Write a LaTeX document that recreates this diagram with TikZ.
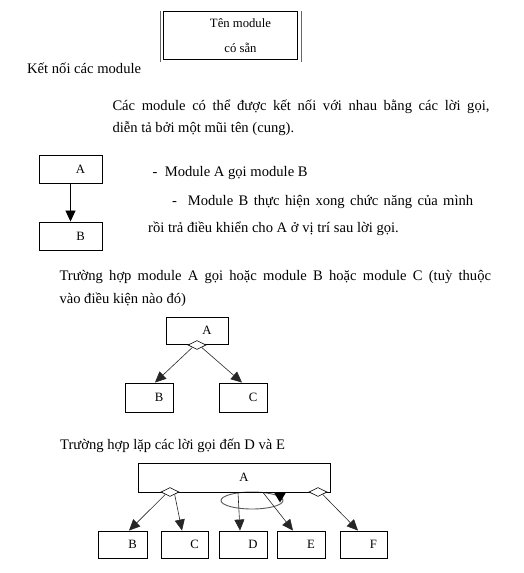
\documentclass[tikz,border=0pt]{standalone}
\usepackage{fontspec}
\setmainfont{Liberation Serif}
\usetikzlibrary{arrows.meta,shapes.geometric}
\tikzset{
  txt/.style={anchor=base west, inner sep=0pt, font=\fontsize{14.6}{22}\selectfont},
  modbox/.style={draw=black, line width=0.9pt, rectangle, inner sep=0pt, minimum height=#1, font=\fontsize{12.7}{15}\selectfont},
  modbox/.default=28pt,
  choice/.style={draw=black, fill=white, line width=0.6pt, diamond, aspect=2, minimum width=18pt, minimum height=9pt, inner sep=0pt},
  call/.style={draw=black!85, line width=0.6pt, -{Triangle[length=11pt,width=10pt]}},
  loopline/.style={draw=black!65, line width=0.9pt},
  sideline/.style={draw=black!60, line width=1.2pt}
}
\newcommand{\lbl}[1]{\hspace*{20pt}#1}
\begin{document}
\begin{tikzpicture}[x=1pt,y=-1pt]
\useasboundingbox (0,0) rectangle (523,573);
% top box
\node[modbox=47.5pt, minimum width=133.5pt, line width=1.2pt, align=center, font=\fontsize{12.7}{25}\selectfont] (top) at (230.5,35.5) {\lbl{Tên module}\\\lbl{có sẵn}};
\coordinate (tl1) at ([xshift=-3pt,yshift=0pt]top.north west);
\coordinate (tl2) at ([xshift=-3pt,yshift=-2pt]top.south west);
\coordinate (tr1) at ([xshift=4pt]top.north east);
\coordinate (tr2) at ([xshift=4pt,yshift=-2pt]top.south east);
\draw[sideline] (tl1) -- (tl2);
\draw[sideline] (tr1) -- (tr2);

% texts
\node[txt] (t1) at (27,73) {Kết nối các module};
\node[txt] (t2) at (112.3,110) {\makebox[377pt][s]{Các module có thể được kết nối với nhau bằng các lời gọi,}};
\node[txt] (t3) at (112.3,132) {diễn tả bởi một mũi tên (cung).};
\node[txt] (t4) at (152.5,176) {-\ \ Module A gọi module B};
\node[txt] (t5) at (172,205) {\makebox[301pt][s]{-\ \ Module B thực hiện xong chức năng của mình}};
\node[txt] (t6) at (148,232) {rồi trả điều khiển cho A ở vị trí sau lời gọi.};
\node[txt] (t7) at (59.3,280) {\makebox[431.5pt][s]{Trường hợp module A gọi hoặc module B hoặc module C (tuỳ thuộc}};
\node[txt] (t8) at (59.3,303) {vào điều kiện nào đó)};
\node[txt] (t9) at (60,449) {Trường hợp lặp các lời gọi đến D và E};

% section 2
\node[modbox=28pt, minimum width=63pt] (a2) at (70.5,169) {\lbl{A}};
\node[modbox=28pt, minimum width=63pt] (b2) at (70.5,236) {\lbl{B}};
\draw[call, draw=black, line width=0.8pt] (a2.south) -- (b2.north);

% section 3
\node[modbox=27pt, minimum width=62pt] (a3) at (197,330.5) {\lbl{A}};
\node[modbox=29pt, minimum width=48pt] (b3) at (149,397.5) {\lbl{B}};
\node[modbox=29pt, minimum width=48pt] (c3) at (243,397.5) {\lbl{C}};
\node[choice] (d3) at (197,345) {};
\draw[call] (d3.south west) -- ([xshift=6pt]b3.north);
\draw[call] (d3.south east) -- ([xshift=-1pt]c3.north);

% section 4
\draw[loopline] (252,500.5) ellipse [x radius=31pt, y radius=8.5pt];
\node[modbox=29pt, minimum width=192pt] (a4) at (234,477.5) {\lbl{A}};
\node[modbox=27pt, minimum width=49pt] (b4) at (122.5,544.5) {\lbl{B}};
\node[modbox=27pt, minimum width=47pt] (c4) at (184.5,544.5) {\lbl{C}};
\node[modbox=27pt, minimum width=48pt] (d4) at (243,544.5) {\lbl{D}};
\node[modbox=27pt, minimum width=48pt] (e4) at (301,544.5) {\lbl{E}};
\node[modbox=27pt, minimum width=47pt] (f4) at (363.5,544.5) {\lbl{F}};
\node[choice] (dl) at (170,492) {};
\node[choice] (dr) at (318,492) {};
\fill[black] ([xshift=40pt]a4.south) -- ([xshift=52pt]a4.south) -- ([xshift=46pt,yshift=-10pt]a4.south) -- cycle;
\draw[call] (dl.south west) -- ([xshift=6.5pt]b4.north);
\draw[call] (dl.south east) -- ([xshift=-2.5pt]c4.north);
\draw[call] ([xshift=4pt]a4.south) -- ([xshift=-3pt]d4.north);
\draw[call] ([xshift=29pt]a4.south) -- ([xshift=-8pt]e4.north);
\draw[call] (dr.south east) -- ([xshift=-5.5pt]f4.north);
\end{tikzpicture}
\end{document}
